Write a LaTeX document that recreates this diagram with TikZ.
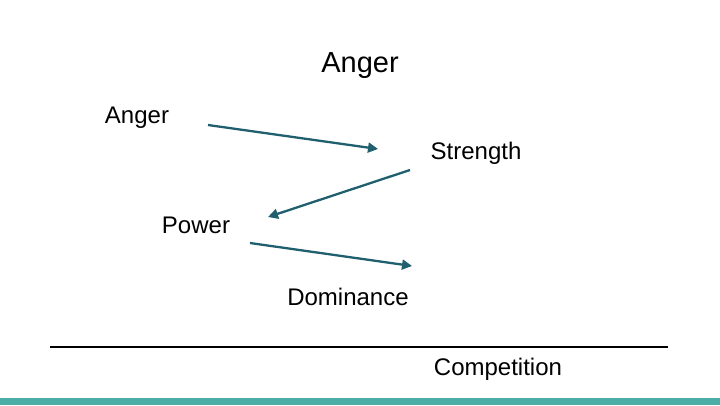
\documentclass[tikz,border=0pt]{standalone}
\usepackage{fontspec}
\setmainfont{Liberation Sans}
\usetikzlibrary{arrows.meta}
\definecolor{arr}{HTML}{1F5F6E}
\definecolor{bar}{HTML}{4BADA6}
\tikzset{lbl/.style={font=\fontsize{24}{28}\selectfont,inner sep=0pt},
 ttl/.style={font=\fontsize{29}{33}\selectfont,inner sep=0pt},
 con/.style={draw=arr,line width=2.3pt,-{Triangle[length=10pt,width=10pt]}}}
\begin{document}
\begin{tikzpicture}[x=1pt,y=-1pt]
\useasboundingbox (0,0) rectangle (720,405);
\fill[bar] (0,398) rectangle (720,405);
\node[ttl] (t) at (360,66) {Anger};
\node[lbl] (a) at (137,118) {Anger};
\node[lbl] (s) at (476,153) {Strength};
\node[lbl] (p) at (196,225) {Power};
\node[lbl] (d) at (348,297) {Dominance};
\node[lbl] (c) at (498,369) {Competition};
\coordinate (a1) at (208,125); \coordinate (a2) at (378,149);
\coordinate (b1) at (410,170); \coordinate (b2) at (268,217);
\coordinate (c1) at (250,243); \coordinate (c2) at (412,266);
\draw[con] (a1) -- (a2);
\draw[con] (b1) -- (b2);
\draw[con] (c1) -- (c2);
\coordinate (l1) at (50,347); \coordinate (l2) at (668,347);
\draw[line width=1.6pt] (l1) -- (l2);
\end{tikzpicture}
\end{document}
